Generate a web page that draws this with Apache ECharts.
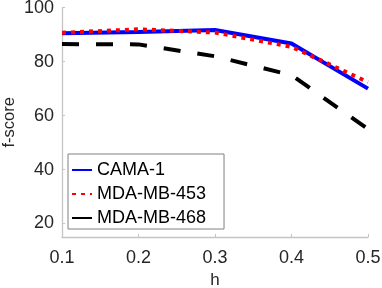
<!DOCTYPE html>
<html><head><meta charset="utf-8">
<script src="https://cdn.jsdelivr.net/npm/echarts@6/dist/echarts.min.js"></script>
<style>html,body{margin:0;padding:0;background:#fff}#c{width:382px;height:288px}</style>
</head><body><div id="c"></div>
<script>
const hValues = [0.1, 0.2, 0.3, 0.4, 0.5];
const cama1 = [90.5, 91.0, 91.7, 86.7, 70.0];
const mda453 = [90.7, 92.0, 90.8, 85.5, 72.4];
const mda468 = [86.5, 86.4, 82.0, 75.0, 55.0];
const yTicks = [20, 40, 60, 80, 100];
const xTicks = [0.1, 0.2, 0.3, 0.4, 0.5];

const font = 'Liberation Sans, Arial, sans-serif';
const txt = '#262626';
const axisCol = '#c4c4c4';
const pair = (ys) => hValues.map((x, i) => [x, ys[i]]);

const chart = echarts.init(document.getElementById('c'), null, {renderer: 'canvas'});
chart.setOption({
  animation: false,
  backgroundColor: '#fff',
  grid: {left: 62, right: 14, top: 7.7, bottom: 51, containLabel: false, outerBoundsMode: 'none'},
  xAxis: {
    type: 'value', min: 0.1, max: 0.5,
    name: 'h', nameLocation: 'middle', nameGap: 33,
    nameTextStyle: {color: txt, fontSize: 17, fontFamily: font},
    axisLine: {show: true, lineStyle: {color: axisCol, width: 1.3}},
    axisTick: {show: true, inside: true, length: 3, lineStyle: {color: axisCol}, customValues: xTicks},
    axisLabel: {color: txt, fontSize: 18, fontFamily: font, margin: 12, customValues: xTicks,
      formatter: v => v.toFixed(1)},
    splitLine: {show: false}
  },
  yAxis: {
    type: 'value', min: 15, max: 100,
    name: 'f-score', nameLocation: 'middle', nameGap: 44, nameMoveOverlap: false,
    nameTextStyle: {color: txt, fontSize: 16.5, fontFamily: font},
    axisLine: {show: true, lineStyle: {color: axisCol, width: 1.3}},
    axisTick: {show: true, inside: true, length: 3, lineStyle: {color: axisCol}, customValues: yTicks},
    axisLabel: {color: txt, fontSize: 18, fontFamily: font, margin: 8, customValues: yTicks},
    splitLine: {show: false}
  },
  legend: {
    orient: 'vertical', left: 68, top: 154,
    padding: [7, 18, 2, 3], itemGap: 6, itemWidth: 20, itemHeight: 14, itemTextGap: 11,
    borderColor: '#808080', borderWidth: 1, backgroundColor: '#ffffff',
    itemStyle: {opacity: 0},
    textStyle: {color: '#000', fontSize: 18, fontFamily: font},
    data: [
      {name: 'CAMA-1'},
      {name: 'MDA-MB-453'},
      {name: 'MDA-MB-468', lineStyle: {type: 'solid'}}
    ]
  },
  series: [
    {name: 'CAMA-1', type: 'line', data: pair(cama1), symbol: 'none',
      lineStyle: {color: '#0000ff', width: 4}, itemStyle: {color: '#0000ff'}},
    {name: 'MDA-MB-453', type: 'line', data: pair(mda453), symbol: 'none',
      lineStyle: {color: '#ff0000', width: 4, type: [4, 5]}, itemStyle: {color: '#ff0000'}},
    {name: 'MDA-MB-468', type: 'line', data: pair(mda468), symbol: 'none',
      lineStyle: {color: '#000000', width: 4, type: [17, 17]}, itemStyle: {color: '#000000'}}
  ]
});
</script></body></html>
